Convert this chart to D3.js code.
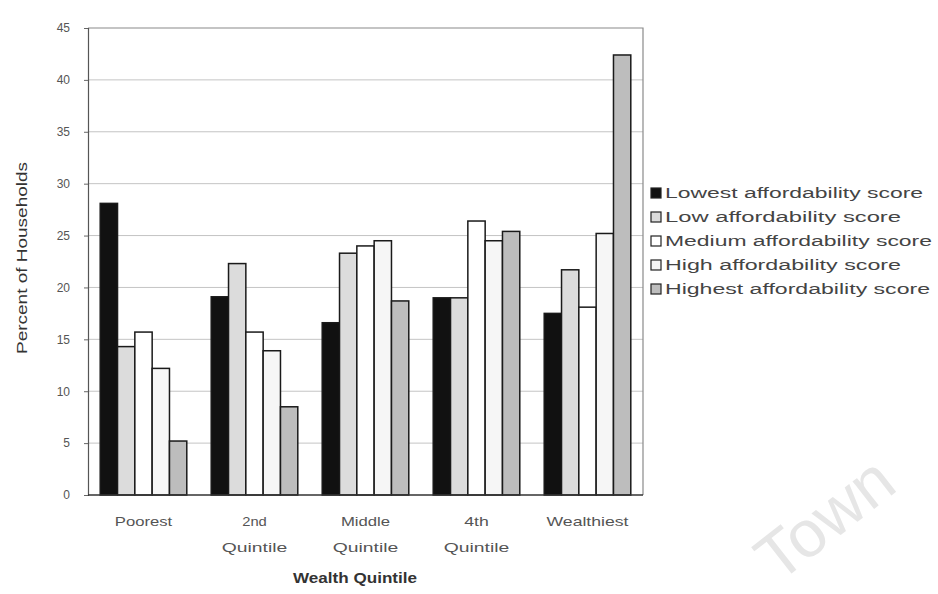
<!DOCTYPE html>
<html>
<head>
<meta charset="utf-8">
<script src="https://cdn.jsdelivr.net/npm/d3@7"></script>
<style>
  html, body { margin: 0; padding: 0; background: #fff; }
  svg { display: block; font-family: "Liberation Sans", Arial, sans-serif; }
</style>
</head>
<body>
<svg id="chart" width="938" height="594"></svg>
<script>
// Wealth quintiles along the x axis
const quintiles = ["Poorest", "2nd Quintile", "Middle Quintile", "4th Quintile", "Wealthiest"];
// Affordability score groups (one bar each per quintile)
const scoreGroups = [
  "Lowest affordability score",
  "Low affordability score",
  "Medium affordability score",
  "High affordability score",
  "Highest affordability score"
];
// Percent of households, one array per score group, ordered by quintile
const lowestScore  = [28.1, 19.1, 16.6, 19.0, 17.5];
const lowScore     = [14.3, 22.3, 23.3, 19.0, 21.7];
const mediumScore  = [15.7, 15.7, 24.0, 26.4, 18.1];
const highScore    = [12.2, 13.9, 24.5, 24.5, 25.2];
const highestScore = [5.2, 8.5, 18.7, 25.4, 42.4];
const yTicks = [0, 5, 10, 15, 20, 25, 30, 35, 40, 45];
const yTickLabels = ["0", "5", "10", "15", "20", "25", "30", "35", "40", "45"];

const seriesValues = [lowestScore, lowScore, mediumScore, highScore, highestScore];
const fills = ["#111111", "#dcdcdc", "#ffffff", "#f6f6f6", "#bdbdbd"];

const svg = d3.select("#chart");
const plot = { left: 88, right: 643, top: 28, bottom: 495 };

const x0 = d3.scaleBand().domain(quintiles).range([plot.left, plot.right]).paddingInner(0.22).paddingOuter(0.11);
const x1 = d3.scaleBand().domain(scoreGroups).range([0, x0.bandwidth()]);
const y = d3.scaleLinear().domain([0, 45]).range([plot.bottom, plot.top]);

// wide, letter-spaced lettering: stretch a label to a given width
function stretch(sel, width) {
  sel.attr("textLength", width).attr("lengthAdjust", "spacingAndGlyphs");
}

// horizontal gridlines
svg.append("g")
  .selectAll("line")
  .data(yTicks.filter(t => t > 0 && t < 45))
  .join("line")
  .attr("x1", plot.left).attr("x2", plot.right)
  .attr("y1", d => y(d)).attr("y2", d => y(d))
  .attr("stroke", "#c4c4c4").attr("stroke-width", 1);

// plot frame (top and right)
svg.append("path")
  .attr("d", `M${plot.left},${y(45)}H${plot.right}V${plot.bottom}`)
  .attr("fill", "none").attr("stroke", "#8a8a8a").attr("stroke-width", 1.2);

// bars
const groups = svg.append("g").selectAll("g")
  .data(quintiles)
  .join("g")
  .attr("transform", d => `translate(${x0(d)},0)`);

groups.selectAll("rect")
  .data((q, qi) => scoreGroups.map((s, si) => ({ s, si, v: seriesValues[si][qi] })))
  .join("rect")
  .attr("x", d => x1(d.s))
  .attr("width", x1.bandwidth())
  .attr("y", d => y(d.v))
  .attr("height", d => y(0) - y(d.v))
  .attr("fill", d => fills[d.si])
  .attr("stroke", "#1a1a1a")
  .attr("stroke-width", 1.5);

// y axis
const yAxis = d3.axisLeft(y).tickValues(yTicks).tickFormat((d, i) => yTickLabels[i]).tickSize(4).tickPadding(14);
const ya = svg.append("g").attr("transform", `translate(${plot.left},0)`).call(yAxis);
ya.select(".domain").attr("stroke", "#555").attr("stroke-width", 1.2);
ya.selectAll(".tick line").attr("stroke", "#666");
ya.selectAll(".tick text").attr("fill", "#555").attr("font-size", 12).attr("font-family", "'Liberation Sans Narrow', 'Liberation Sans', Arial, sans-serif");

// x axis baseline
svg.append("line")
  .attr("x1", plot.left).attr("x2", plot.right)
  .attr("y1", y(0)).attr("y2", y(0))
  .attr("stroke", "#333").attr("stroke-width", 1.4);

// category labels (wrapped on two lines)
const catLabels = svg.append("g").selectAll("text")
  .data(quintiles)
  .join("text")
  .attr("x", d => x0(d) + x0.bandwidth() / 2)
  .attr("y", 526)
  .attr("text-anchor", "middle")
  .attr("fill", "#555")
  .attr("font-size", 13.5);
catLabels.each(function (d) {
  const words = d.split(" ");
  const t = d3.select(this);
  words.forEach((w, i) => {
    const ts = t.append("tspan")
      .attr("x", x0(d) + x0.bandwidth() / 2)
      .attr("dy", i === 0 ? 0 : 26)
      .text(w);
    ts.attr("textLength", w.length * 8.2).attr("lengthAdjust", "spacingAndGlyphs");
  });
});

// axis titles
svg.append("text")
  .attr("x", 355)
  .attr("y", 583)
  .attr("text-anchor", "middle")
  .attr("font-size", 14)
  .attr("font-weight", "bold")
  .attr("fill", "#333")
  .text("Wealth Quintile")
  .call(stretch, 124);

svg.append("text")
  .attr("transform", `translate(27,258) rotate(-90)`)
  .attr("text-anchor", "middle")
  .attr("font-size", 14.5)
  .attr("fill", "#333")
  .text("Percent of Households")
  .call(stretch, 192);

// legend
const legendWidths = [258, 236, 267, 236, 265];
const legend = svg.append("g").attr("transform", "translate(651,193)");
const items = legend.selectAll("g")
  .data(scoreGroups)
  .join("g")
  .attr("transform", (d, i) => `translate(0,${i * 24})`);
items.append("rect")
  .attr("x", 0).attr("y", -5)
  .attr("width", 10).attr("height", 10)
  .attr("fill", (d, i) => fills[i])
  .attr("stroke", "#222").attr("stroke-width", 1.2);
items.append("text")
  .attr("x", 14).attr("y", 5)
  .attr("font-size", 14)
  .attr("fill", "#444")
  .text(d => d)
  .each(function (d, i) { d3.select(this).call(stretch, legendWidths[i]); });

// watermark
svg.append("text")
  .attr("transform", "translate(778,584) rotate(-38)")
  .attr("font-size", 66)
  .attr("fill", "#e6e6e6")
  .text("Town");
</script>
</body>
</html>
